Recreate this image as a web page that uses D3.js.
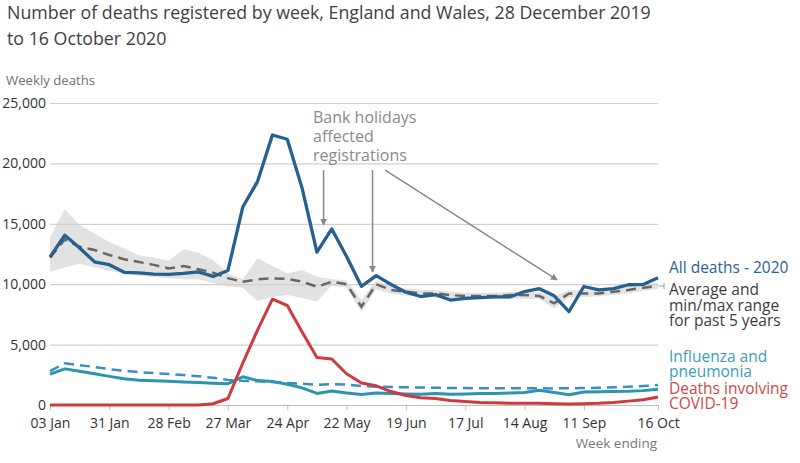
<!DOCTYPE html>
<html><head><meta charset="utf-8">
<script src="https://cdn.jsdelivr.net/npm/d3@7"></script>
<style>
body{margin:0;background:#fff;font-family:"Open Sans",sans-serif;}
svg{display:block;}
</style></head>
<body><svg id="chart" width="800" height="463"></svg>
<script>
const weeks = ["03 Jan","10 Jan","17 Jan","24 Jan","31 Jan","07 Feb","14 Feb","21 Feb","28 Feb","06 Mar","13 Mar","20 Mar","27 Mar","03 Apr","10 Apr","17 Apr","24 Apr","01 May","08 May","15 May","22 May","29 May","05 Jun","12 Jun","19 Jun","26 Jun","03 Jul","10 Jul","17 Jul","24 Jul","31 Jul","07 Aug","14 Aug","21 Aug","28 Aug","04 Sep","11 Sep","18 Sep","25 Sep","02 Oct","09 Oct","16 Oct"];
const tickLabels = ["03 Jan","31 Jan","28 Feb","27 Mar","24 Apr","22 May","19 Jun","17 Jul","14 Aug","11 Sep","16 Oct"];
const yTicks = [0,5000,10000,15000,20000,25000];

const allDeaths2020 = [12254,14058,12990,11856,11612,10986,10944,10841,10816,10895,11019,10645,11141,16387,18516,22351,21997,17953,12657,14573,12288,9824,10709,9976,9339,8979,9140,8690,8823,8891,8946,8945,9392,9631,9036,7739,9811,9523,9634,9954,9984,10534];
const avg5yr = [12200,13700,13100,12830,12420,12060,11840,11600,11310,11500,11250,10950,10500,10200,10400,10490,10430,10210,9790,10200,9990,8140,9990,9520,9380,9240,9240,9100,9020,9020,9020,9100,9100,9020,8420,9240,9240,9240,9380,9520,9710,9850];
const max5yr = [13900,16200,14900,14200,13500,12950,12400,12200,11950,12900,12600,12000,10900,10400,12150,11500,10900,11180,10620,10430,10300,8700,10300,9800,9650,9550,9500,9400,9300,9300,9300,9350,9350,9300,9000,9500,9500,9500,9600,9800,10000,10100];
const min5yr = [11000,11400,11700,11400,11100,10900,10700,10600,10500,10400,10400,10100,9800,9700,8600,8950,9100,8850,8550,9900,9700,7700,9600,9200,9050,8950,8900,8800,8750,8750,8750,8800,8800,8750,8000,8900,8950,9000,9100,9250,9450,9600];
const flu2020 = [2550,2990,2800,2580,2370,2180,2040,2000,1960,1900,1860,1800,1760,2340,2020,1940,1720,1420,960,1160,1000,860,1000,960,920,900,950,880,910,950,960,1000,1030,1220,1040,850,1080,1100,1110,1130,1190,1300];
const fluAvg = [2800,3450,3300,3150,2970,2830,2720,2640,2560,2480,2380,2260,2080,2000,1960,1900,1820,1760,1680,1720,1700,1560,1520,1490,1470,1450,1430,1410,1400,1390,1380,1380,1380,1380,1370,1390,1400,1430,1460,1510,1570,1650];
const covid = [0,0,0,0,0,0,0,0,0,0,5,103,539,3475,6213,8758,8237,6035,3930,3810,2589,1822,1588,1114,783,606,532,366,295,217,193,152,139,138,101,78,99,139,215,321,438,670];

const titleLines = ["Number of deaths registered by week, England and Wales, 28 December 2019","to 16 October 2020"];
const annoLines = ["Bank holidays","affected","registrations"];
// arrows: [fromWeekIndex, fromValue, toWeekIndex, toValue]
const annoArrows = [[18.45,19450,18.45,14900],[21.75,19450,21.75,11000],[22.6,19450,34.2,10350]];

const svg = d3.select("#chart");
const x = d3.scalePoint().domain(weeks).range([50,658]);
const xi = d3.scaleLinear().domain([0,weeks.length-1]).range([50,658]);
const y = d3.scaleLinear().domain([0,25000]).range([405,103]);

// title
svg.append("g").selectAll("text").data(titleLines).join("text")
  .attr("x",7).attr("y",(d,i)=>19+i*26).attr("font-size",17.8).attr("fill","#414042").text(d=>d);
svg.append("text").attr("x",6).attr("y",85).attr("font-size",13.2).attr("fill","#707070").text("Weekly deaths");

// band
svg.append("path").datum(weeks).attr("fill","#e2e2e2")
  .attr("d",d3.area().x(d=>x(d)).y0((d,i)=>y(min5yr[i])).y1((d,i)=>y(max5yr[i])));

// grid + y axis
const ya = svg.append("g").attr("transform","translate(50,0)")
  .call(d3.axisLeft(y).tickValues(yTicks).tickSize(-608).tickFormat(d3.format(",")).tickPadding(4));
ya.select(".domain").remove();
ya.selectAll("line").attr("stroke",(d)=>d===0?"#bdbdbd":"#d0d0d0").attr("stroke-width",1.2);
ya.selectAll("text").attr("font-size",14).attr("fill","#333").attr("font-family","Open Sans");

// x axis
const xa = svg.append("g").attr("transform","translate(0,405)")
  .call(d3.axisBottom(x).tickValues(tickLabels).tickSize(5).tickPadding(8));
xa.select(".domain").remove();
xa.selectAll("line").attr("stroke","#bdbdbd");
xa.selectAll("text").attr("font-size",14).attr("fill","#333").attr("font-family","Open Sans");
svg.append("text").attr("x",657).attr("y",448).attr("text-anchor","end").attr("font-size",13.5).attr("fill","#777").text("Week ending");

const line = arr => d3.line().x((d,i)=>x(weeks[i])).y(d=>y(d))(arr);

svg.append("path").attr("d",line(avg5yr)).attr("fill","none").attr("stroke","#666").attr("stroke-width",2.5).attr("stroke-dasharray","10,6");
svg.append("path").attr("d",line(fluAvg)).attr("fill","none").attr("stroke","#3a8ec4").attr("stroke-width",2.5).attr("stroke-dasharray","10,6");
svg.append("path").attr("d",line(flu2020)).attr("fill","none").attr("stroke","#2b95b0").attr("stroke-width",3).attr("stroke-linejoin","round");
svg.append("path").attr("d",line(covid)).attr("fill","none").attr("stroke","#cf3a3f").attr("stroke-width",3).attr("stroke-linejoin","round");
svg.append("path").attr("d",line(allDeaths2020)).attr("fill","none").attr("stroke","#25608f").attr("stroke-width",3.3).attr("stroke-linejoin","round");

// small leader at dashed end
const endY = y(avg5yr[avg5yr.length-1]);
svg.append("line").attr("x1",659).attr("x2",664).attr("y1",endY).attr("y2",endY).attr("stroke","#999");
svg.append("line").attr("x1",664).attr("x2",664).attr("y1",endY-3).attr("y2",endY+3).attr("stroke","#999");

// legend labels
const legend = [
  {lines:["All deaths - 2020"],y:273,c:"#2e6191",dy:15.5},
  {lines:["Average and","min/max range","for past 5 years"],y:295,c:"#3d3d3d",dy:15.5},
  {lines:["Influenza and","pneumonia"],y:362,c:"#3a9fb5",dy:14.5},
  {lines:["Deaths involving","COVID-19"],y:394,c:"#d04848",dy:15}
];
legend.forEach(l=>{
  svg.append("g").selectAll("text").data(l.lines).join("text")
    .attr("x",669).attr("y",(d,i)=>l.y+i*l.dy).attr("font-size",15.5).attr("fill",l.c).text(d=>d);
});

// annotation
svg.append("g").selectAll("text").data(annoLines).join("text")
  .attr("x",313).attr("y",(d,i)=>123+i*19).attr("font-size",16).attr("fill","#8a8a8a").text(d=>d);
svg.append("defs").append("marker").attr("id","ah").attr("viewBox","0 0 10 10").attr("refX",9).attr("refY",5)
  .attr("markerWidth",7).attr("markerHeight",7).attr("markerUnits","userSpaceOnUse").attr("orient","auto")
  .append("path").attr("d","M0,0L10,5L0,10Z").attr("fill","#888");
svg.append("g").selectAll("line").data(annoArrows).join("line")
  .attr("x1",d=>xi(d[0])).attr("y1",d=>y(d[1])).attr("x2",d=>xi(d[2])).attr("y2",d=>y(d[3]))
  .attr("stroke","#888").attr("stroke-width",1.5).attr("marker-end","url(#ah)");
</script></body></html>
